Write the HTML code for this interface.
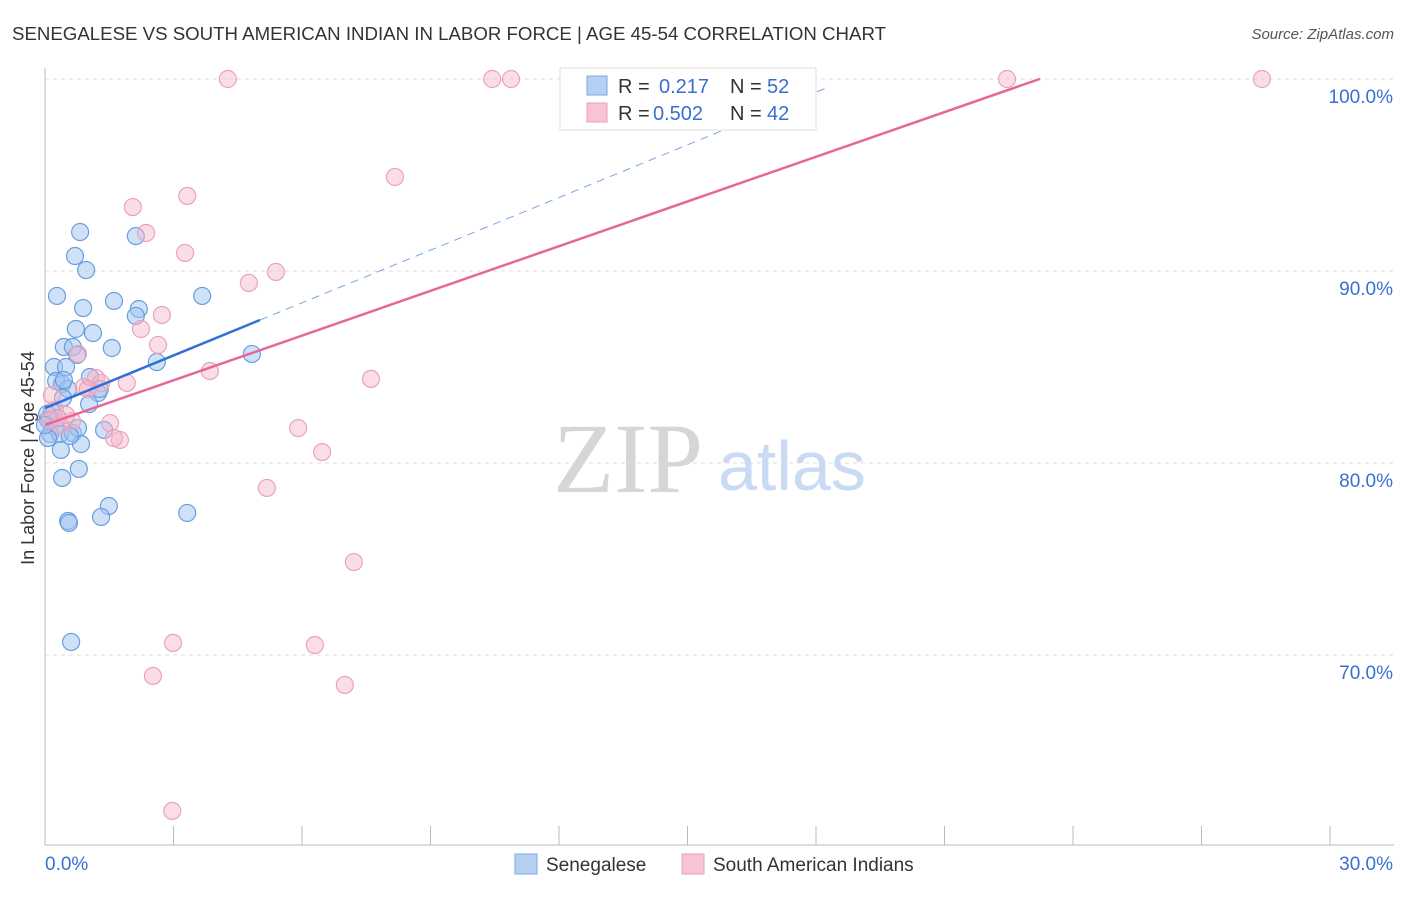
<!DOCTYPE html>
<html><head><meta charset="utf-8">
<style>
body{margin:0;background:#fff;font-family:"Liberation Sans",sans-serif;}
</style></head>
<body>
<svg id="chart" width="1406" height="892" xmlns="http://www.w3.org/2000/svg" font-family="Liberation Sans, sans-serif">
<text x="12" y="40" font-size="18" fill="#333" textLength="874" lengthAdjust="spacingAndGlyphs">SENEGALESE VS SOUTH AMERICAN INDIAN IN LABOR FORCE | AGE 45-54 CORRELATION CHART</text>
<text x="1394" y="39" font-size="15" fill="#555" font-style="italic" text-anchor="end">Source: ZipAtlas.com</text>
<g id="grid"></g>
<g id="axes"></g>
<text x="553" y="492" font-size="100" fill="#d6d6d6" style="font-family:'Liberation Serif',serif">ZIP</text>
<text x="718" y="490" font-size="70" fill="#c9daf2">atlas</text>
<g id="points"></g>
<g id="lines"></g>
<text x="34" y="458" font-size="18" fill="#333" text-anchor="middle" transform="rotate(-90 34 458)">In Labor Force | Age 45-54</text>
<g>
<rect x="560" y="68" width="256" height="62" fill="#fff" stroke="#ddd"/>
<rect x="587" y="76" width="20" height="19" fill="#b5d0f3" stroke="#7aa8e4"/>
<rect x="587" y="103" width="20" height="19" fill="#f8c4d4" stroke="#eaa0b8"/>
<text y="93" font-size="20" fill="#333"><tspan x="618">R =</tspan><tspan x="659" fill="#3a6fd0">0.217</tspan><tspan x="730">N =</tspan><tspan x="767" fill="#3a6fd0">52</tspan></text>
<text y="120" font-size="20" fill="#333"><tspan x="618">R =</tspan><tspan x="653" fill="#3a6fd0">0.502</tspan><tspan x="730">N =</tspan><tspan x="767" fill="#3a6fd0">42</tspan></text>
</g>
<g>
<rect x="515" y="854" width="22" height="20" fill="#b5d0f3" stroke="#7aa8e4"/>
<text x="546" y="871" font-size="19" fill="#333">Senegalese</text>
<rect x="682" y="854" width="22" height="20" fill="#f8c4d4" stroke="#eaa0b8"/>
<text x="713" y="871" font-size="19" fill="#333">South American Indians</text>
</g>
</svg>
<script>
const xTicks=[0,3,6,9,12,15,18,21,24,27,30];
const yTicks=[70,80,90,100];
const yTickLabels=["70.0%","80.0%","90.0%","100.0%"];
const blueX=[0.82,0.70,0.96,0.28,2.12,0.89,1.61,2.19,2.12,3.67,0.72,1.12,0.44,0.65,1.56,0.75,4.83,2.61,0.21,0.49,0.26,0.40,0.54,1.05,1.24,1.03,0.42,0.16,0.07,0.23,0.12,0.35,0.65,0.77,0.07,1.38,0.84,0.37,0.79,0.40,1.49,1.31,0.54,0.56,3.32,0.61,0.05,0.30,1.28,0.44,0.58,0.0];
const blueY=[92.03,90.78,90.05,88.70,91.82,88.07,88.44,88.02,87.66,88.70,86.98,86.77,86.04,86.04,85.99,85.63,85.68,85.26,85.00,85.00,84.27,84.11,83.85,84.48,83.65,83.07,83.39,82.66,82.24,81.88,81.51,81.51,81.56,81.82,81.30,81.72,80.99,80.68,79.69,79.22,77.76,77.19,76.98,76.88,77.40,70.68,82.55,82.34,83.85,84.32,81.41,81.98];
const pinkX=[4.27,10.44,10.88,13.78,22.46,28.41,8.17,3.32,2.05,2.36,3.27,5.39,4.76,2.73,2.24,2.64,0.77,3.85,7.61,1.91,1.19,1.31,0.91,0.16,0.23,1.52,0.63,0.35,1.75,1.61,5.91,6.47,5.18,7.21,2.99,6.30,2.52,7.00,2.97,0.12,1.00,0.49];
const pinkY=[100,100,100,100,100,100,94.90,93.91,93.33,91.98,90.94,89.95,89.38,87.71,86.98,86.15,85.68,84.79,84.38,84.17,84.43,84.17,83.96,83.54,82.76,82.08,82.19,81.98,81.20,81.30,81.82,80.57,78.70,74.84,70.63,70.52,68.91,68.44,61.88,82.24,83.85,82.50];
const blueTrend=[0.914,82.86];
const pinkTrend=[0.776,81.98];
const blueSolidEnd=5.02, blueDashEnd=18.33, pinkEnd=23.23;
const ns="http://www.w3.org/2000/svg";
const sx=v=>45+v*(1285/30);
const sy=v=>79+(100-v)*19.2;
function mk(tag,parent,attrs){const e=document.createElementNS(ns,tag);for(const k in attrs)e.setAttribute(k,attrs[k]);document.getElementById(parent).appendChild(e);return e;}
yTicks.forEach((t,i)=>{
 const l=mk('line','grid',{x1:45,x2:1394,y1:sy(t),y2:sy(t),stroke:'#ddd','stroke-dasharray':'4,4'});
 
 
 const tx=mk('text','axes',{x:1393,y:sy(t)+24,'font-size':19,fill:'#3a6fd0','text-anchor':'end'});
 tx.textContent=yTickLabels[i];
 
 
});
const ax=mk('line','axes',{x1:45,x2:45,y1:68,y2:845,stroke:'#bbb'});


const bx=mk('line','axes',{x1:45,x2:1394,y1:845,y2:845,stroke:'#bbb'});


xTicks.forEach(t=>{
 const l=mk('line','axes',{x1:sx(t),x2:sx(t),y1:826,y2:845,stroke:'#bbb'});
 
 
});
const x0=mk('text','axes',{x:45,y:870,'font-size':19,fill:'#3a6fd0'});x0.textContent='0.0%';


const x1=mk('text','axes',{x:1393,y:870,'font-size':19,fill:'#3a6fd0','text-anchor':'end'});x1.textContent='30.0%';


blueX.forEach((v,i)=>{
 const c=mk('circle','points',{cx:sx(v),cy:sy(blueY[i]),r:8.5,fill:'rgba(160,195,240,0.5)',stroke:'#6a9de0','stroke-width':1.2});
 
 
});
pinkX.forEach((v,i)=>{
 const c=mk('circle','points',{cx:sx(v),cy:sy(pinkY[i]),r:8.5,fill:'rgba(247,180,202,0.45)',stroke:'#eba3ba','stroke-width':1.2});
 
 
});
const f=(t,x)=>t[0]*x+t[1];
const bl=mk('line','lines',{x1:sx(0),y1:sy(f(blueTrend,0)),x2:sx(blueSolidEnd),y2:sy(f(blueTrend,blueSolidEnd)),stroke:'#2f6fd6','stroke-width':2.5});


const bd=mk('line','lines',{x1:sx(blueSolidEnd),y1:sy(f(blueTrend,blueSolidEnd)),x2:sx(blueDashEnd),y2:sy(f(blueTrend,blueDashEnd)),stroke:'#7aa5e0','stroke-width':1,'stroke-dasharray':'8,6'});


const pl=mk('line','lines',{x1:sx(0),y1:sy(f(pinkTrend,0)),x2:sx(pinkEnd),y2:sy(f(pinkTrend,pinkEnd)),stroke:'#e5679a','stroke-width':2.5});


</script>
</body></html>
